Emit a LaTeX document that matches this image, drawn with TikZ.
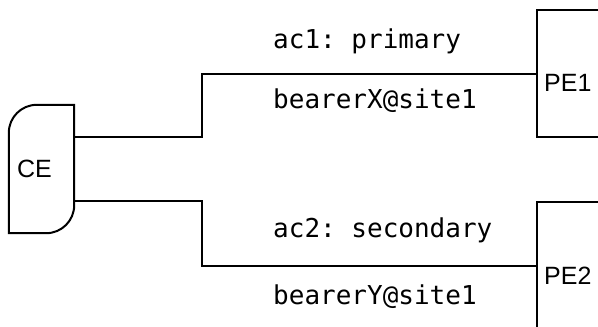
\documentclass[tikz,border=0pt]{standalone}
\usepackage{fontspec}
\setmainfont{Liberation Sans}
\setmonofont{DejaVu Sans Mono}

\tikzset{
  edgebox/.style={draw, line width=2pt, minimum width=65pt, minimum height=127pt, inner sep=0pt},
  boxtext/.style={anchor=west, inner sep=0pt, font=\fontsize{25}{29}\selectfont},
  link/.style={line width=2pt},
  linktext/.style={anchor=base west, inner sep=0pt, font=\ttfamily\fontsize{26}{30}\selectfont}
}

\begin{document}
\begin{tikzpicture}[x=1pt,y=-1pt]
  \useasboundingbox (0,0) rectangle (598,327);
  \clip (0,0) rectangle (598,327);
  % customer edge
  \node[minimum width=65pt, minimum height=128pt, inner sep=0pt] (CE) at (41.5,169) {};
  \draw[link] (CE.north east) -- ([yshift=28pt]CE.south east)
    arc[start angle=0, end angle=-90, radius=28pt] -- (CE.south west)
    -- ([yshift=-28pt]CE.north west) arc[start angle=180, end angle=90, radius=28pt] -- cycle;
  \node[boxtext] (CEtext) at ([xshift=8pt]CE.west) {CE};
  % provider edges
  \node[edgebox] (PE1) at (569.5,73.5) {};
  \node[boxtext] (PE1text) at ([xshift=8pt,yshift=-9.5pt]PE1.west) {PE1};
  \node[edgebox] (PE2) at (569.5,265.5) {};
  \node[boxtext] (PE2text) at ([xshift=8pt,yshift=-10pt]PE2.west) {PE2};
  % attachment circuits
  \draw[link] ([yshift=32pt]CE.east) -- ++(128,0) |- (PE1.west);
  \draw[link] ([yshift=-32pt]CE.east) -- ++(128,0) |- (PE2.west);
  \node[linktext] (ac1) at (273,48) {ac1: primary};
  \node[linktext] (bearer1) at (273,108) {bearerX@site1};
  \node[linktext] (ac2) at (273,237) {ac2: secondary};
  \node[linktext] (bearer2) at (273,304) {bearerY@site1};
\end{tikzpicture}
\end{document}
